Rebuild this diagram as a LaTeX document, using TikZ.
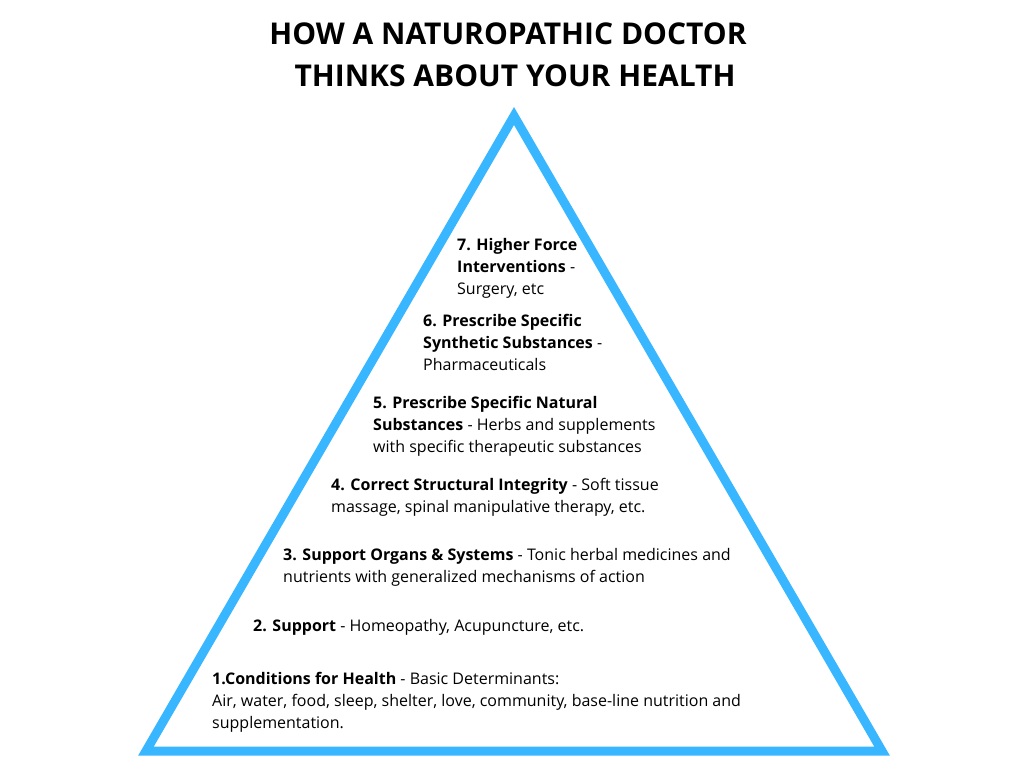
\documentclass[tikz,border=0pt]{standalone}
\usepackage{fontspec}
\setmainfont{Open Sans}
\definecolor{tri}{RGB}{56,182,255}
\begin{document}
\begin{tikzpicture}[x=1pt,y=-1pt,
  lvl/.style={anchor=north west,align=left,inner sep=0pt,font=\fontsize{16}{22}\selectfont},
  ttl/.style={anchor=base,inner sep=0pt,font=\fontsize{30}{40}\selectfont\bfseries}]
\useasboundingbox (0,0) rectangle (1024,768);
\coordinate (A) at (514,116);
\coordinate (B) at (146,751);
\coordinate (C) at (882,751);
\draw[tri,line width=9pt,line join=miter] (A) -- (B) -- (C) -- cycle;
\node[ttl] (t1) at (508,45) {HOW A NATUROPATHIC DOCTOR};
\node[ttl] (t2) at (515,86) {THINKS ABOUT YOUR HEALTH};
\node[lvl] (l7) at (457,238) {\textbf{7. Higher Force}\\\textbf{Interventions} -\\Surgery, etc};
\node[lvl] (l6) at (423,314) {\textbf{6. Prescribe Specific}\\\textbf{Synthetic Substances} -\\Pharmaceuticals};
\node[lvl] (l5) at (373,396) {\textbf{5. Prescribe Specific Natural}\\\textbf{Substances} - Herbs and supplements\\with specific therapeutic substances};
\node[lvl] (l4) at (331,478) {\textbf{4. Correct Structural Integrity} - Soft tissue\\massage, spinal manipulative therapy, etc.};
\node[lvl] (l3) at (283,548) {\textbf{3. Support Organs \& Systems} - Tonic herbal medicines and\\nutrients with generalized mechanisms of action};
\node[lvl] (l2) at (253,619) {\textbf{2. Support} - Homeopathy, Acupuncture, etc.};
\node[lvl] (l1) at (212,672) {\textbf{1.Conditions for Health} - Basic Determinants:\\Air, water, food, sleep, shelter, love, community, base-line nutrition and\\supplementation.};
\end{tikzpicture}
\end{document}
